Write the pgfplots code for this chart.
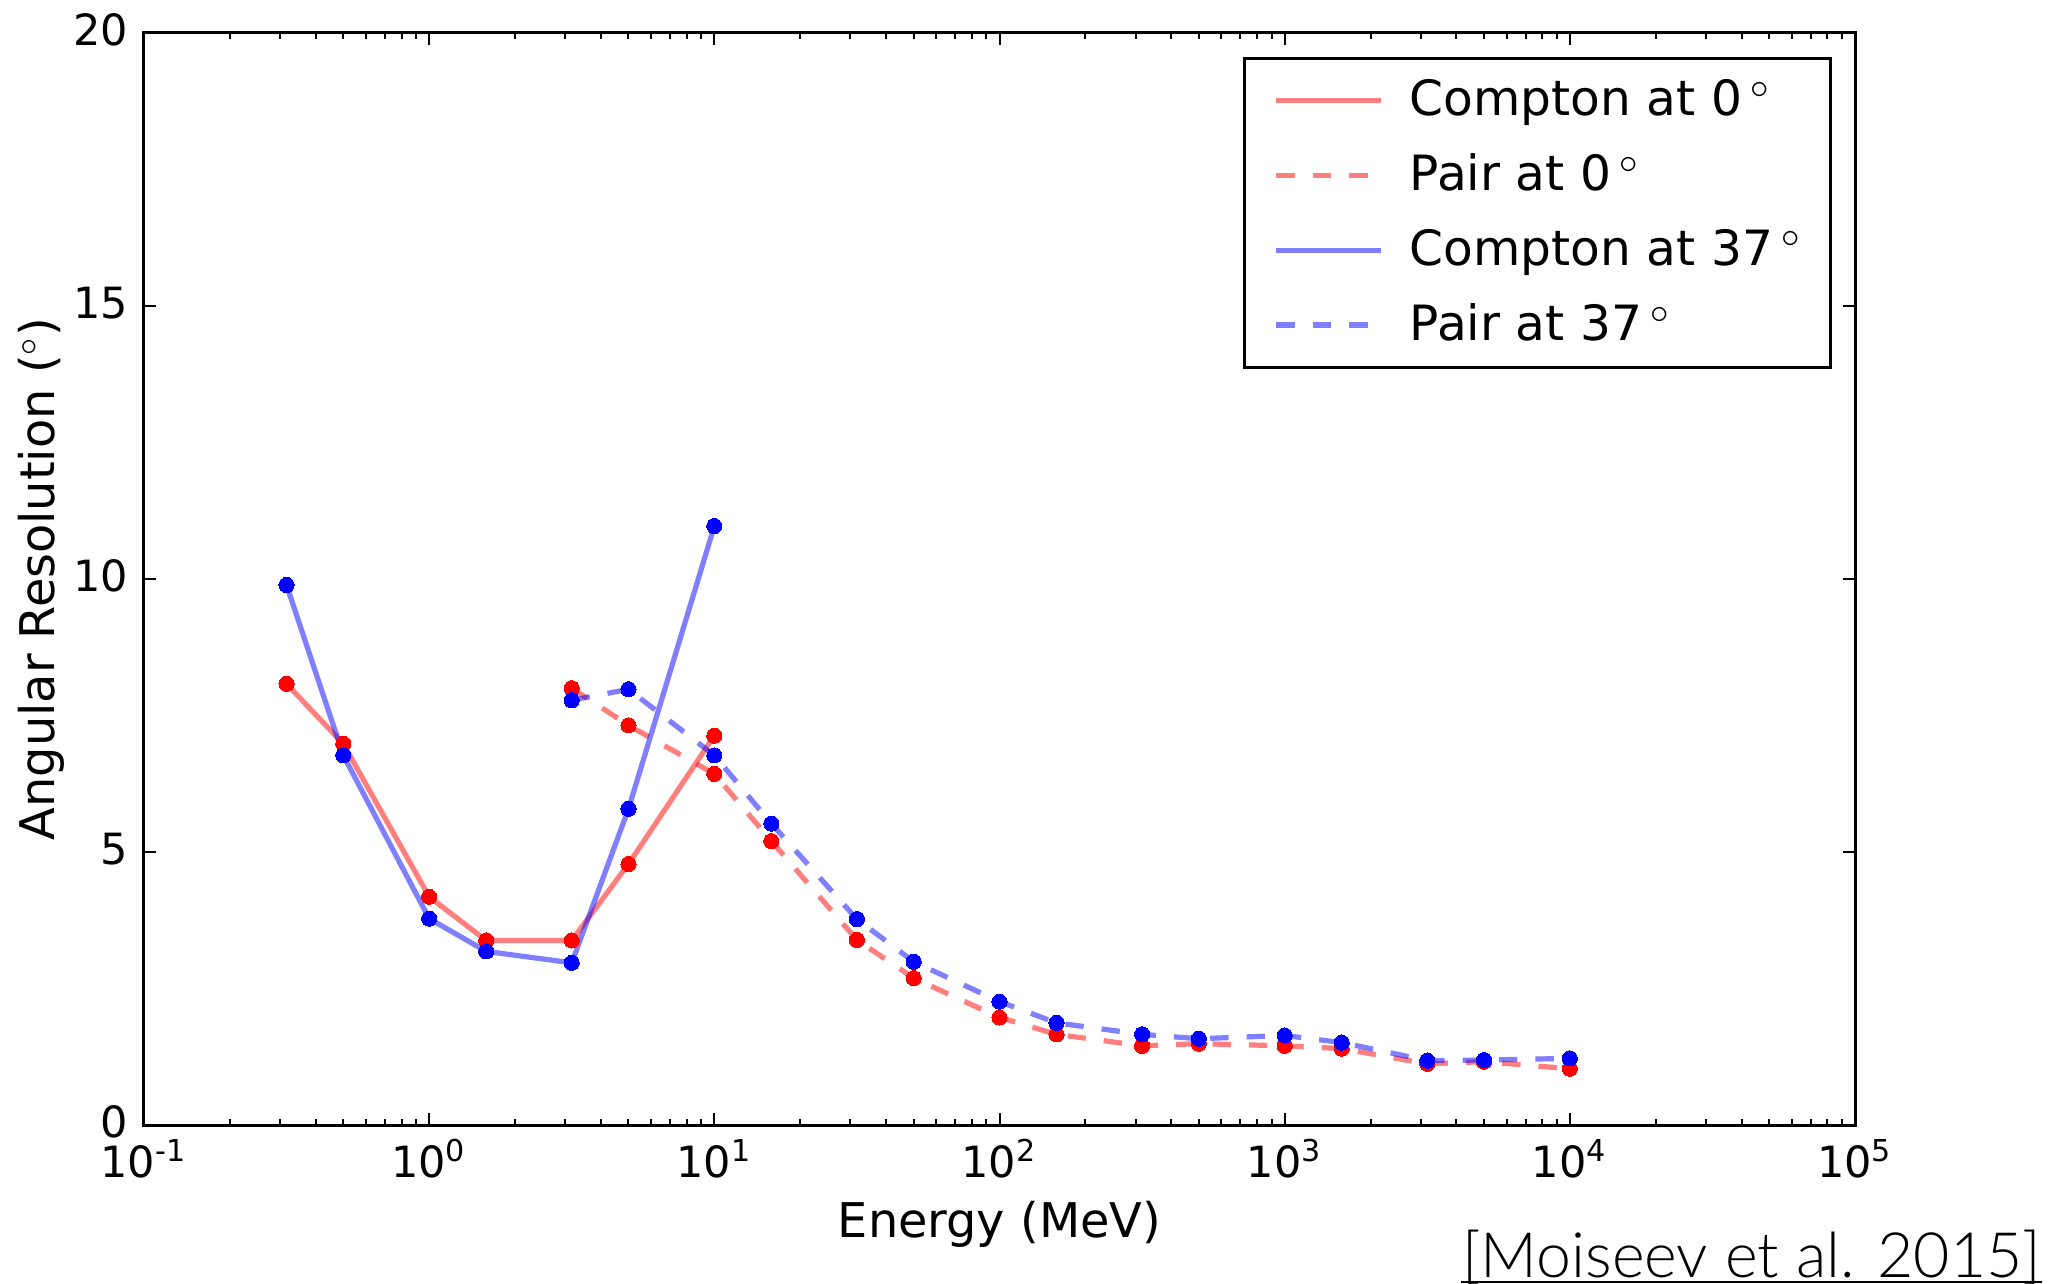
\documentclass[border=0pt]{standalone}
\usepackage{pgfplots}
\pgfplotsset{compat=1.18}
\usepackage{pgfplotstable}
\usepackage{fontspec}
\setmainfont{DejaVu Sans}
\IfFontExistsTF{Lato Light}{\newfontfamily\citefont{Lato Light}}{\newfontfamily\citefont{Lato}}

\pgfplotstableread{
x y
0.3162 8.08
0.5 6.98
1 4.18
1.585 3.38
3.162 3.38
5 4.78
10 7.13
}\comptonzero

\pgfplotstableread{
x y
0.3162 9.89
0.5 6.77
1 3.78
1.585 3.18
3.162 2.97
5 5.79
10 10.97
}\comptonthirty

\pgfplotstableread{
x y
3.162 8.0
5 7.32
10 6.43
15.85 5.2
31.62 3.39
50 2.69
100 1.97
158.5 1.66
316.2 1.45
500 1.49
1000 1.45
1585 1.40
3162 1.12
5000 1.16
10000 1.03
}\pairzero

\pgfplotstableread{
x y
3.162 7.78
5 7.98
10 6.77
15.85 5.52
31.62 3.77
50 2.99
100 2.26
158.5 1.87
316.2 1.66
500 1.58
1000 1.64
1585 1.51
3162 1.18
5000 1.19
10000 1.22
}\pairthirty

\begin{document}
\begin{tikzpicture}
\begin{axis}[
  scale only axis, width=427.75bp, height=273bp,
  xmode=log, xmin=0.1, xmax=1e5, ymin=0, ymax=20,
  xtick={0.1,1,10,100,1000,10000,100000},
  xticklabels={10\textsuperscript{-1},10\textsuperscript{0},10\textsuperscript{1},10\textsuperscript{2},10\textsuperscript{3},10\textsuperscript{4},10\textsuperscript{5}},
  minor xtick={0.2,0.3,0.4,0.5,0.6,0.7,0.8,0.9,2,3,4,5,6,7,8,9,20,30,40,50,60,70,80,90,200,300,400,500,600,700,800,900,2000,3000,4000,5000,6000,7000,8000,9000,20000,30000,40000,50000,60000,70000,80000,90000},
  ytick={0,5,10,15,20}, yticklabels={0,5,10,15,20},
  axis line style={line width=0.75bp},
  tick style={line width=0.5bp, black},
  major tick length=3bp, minor tick length=1.5bp,
  xticklabel style={font=\fontsize{10.8}{13}\selectfont, anchor=base, yshift=-13bp, inner sep=0pt},
  yticklabel style={font=\fontsize{10.8}{13}\selectfont, anchor=east, xshift=-3.75bp, yshift=0.8bp, inner sep=0pt},
  xlabel={Energy (MeV)},
  ylabel={Angular Resolution (${}^\circ$)},
  xlabel style={font=\fontsize{12}{14}\selectfont, at={(axis description cs:0.5,-0.1026)}, anchor=base},
  ylabel style={font=\fontsize{12}{14}\selectfont, at={(axis description cs:-0.0602,0.5)}, anchor=center},
  legend cell align=left,
  legend image code/.code={\draw[#1] (0bp,0bp) -- (26.25bp,0bp);},
  legend style={at={(axis description cs:1,1)}, anchor=north east, xshift=-5.75bp, yshift=-6bp,
    draw=black, line width=0.7bp, font=\fontsize{12.2}{14}\selectfont,
    inner xsep=7.25bp, inner ysep=5.25bp, row sep=8.1bp, column sep=6.5bp,
    nodes={inner sep=0pt}},
]
\addplot[red, opacity=0.5, line width=1.3bp] table {\comptonzero};
\addlegendentry{Compton at 0\,${}^\circ$}
\addplot[only marks, mark=*, mark size=1.9bp, mark options={fill=red, draw=red, line width=0pt}, forget plot] table {\comptonzero};

\addplot[red, opacity=0.5, line width=1.3bp, dash pattern=on 4.6bp off 4.5bp] table {\pairzero};
\addlegendentry{Pair at 0\,${}^\circ$}
\addplot[only marks, mark=*, mark size=1.9bp, mark options={fill=red, draw=red, line width=0pt}, forget plot] table {\pairzero};

\addplot[blue, opacity=0.5, line width=1.3bp] table {\comptonthirty};
\addlegendentry{Compton at 37\,${}^\circ$}
\addplot[only marks, mark=*, mark size=1.9bp, mark options={fill=blue, draw=blue, line width=0pt}, forget plot] table {\comptonthirty};

\addplot[blue, opacity=0.5, line width=1.3bp, dash pattern=on 4.6bp off 4.5bp] table {\pairthirty};
\addlegendentry{Pair at 37\,${}^\circ$}
\addplot[only marks, mark=*, mark size=1.9bp, mark options={fill=blue, draw=blue, line width=0pt}, forget plot] table {\pairthirty};
\end{axis}
\node[anchor=base east, inner sep=0pt, font=\citefont\fontsize{15.7}{18}\selectfont] (cit) at ([xshift=46.75bp, yshift=-38bp]current axis.south east) {[Moiseev et al. 2015]};
\draw[line width=0.6bp] ([yshift=-1.3bp]cit.base west) -- ([yshift=-1.3bp]cit.base east);
\pgfresetboundingbox
\useasboundingbox ([xshift=-36bp,yshift=-39.75bp]current axis.south west) rectangle ([xshift=49.75bp,yshift=8.25bp]current axis.north east);
\end{tikzpicture}
\end{document}
